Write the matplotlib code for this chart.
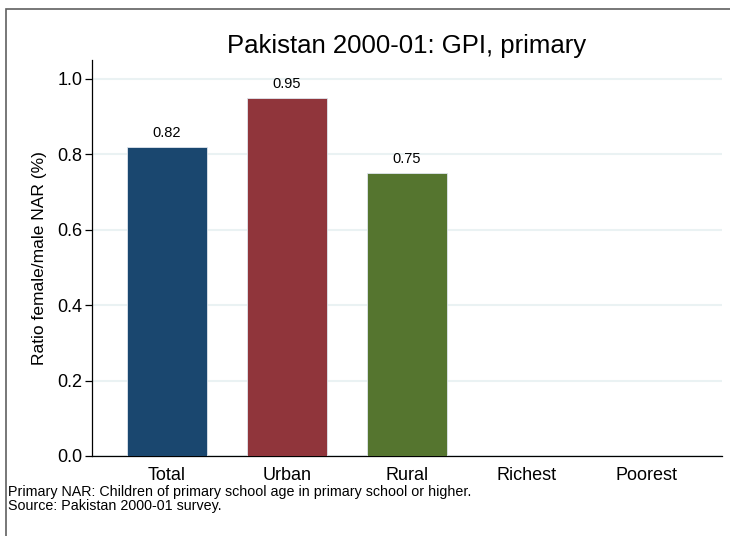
import matplotlib
matplotlib.use("Agg")
import matplotlib.pyplot as plt
from matplotlib.patches import Rectangle

plt.rcParams['font.family'] = ['Liberation Sans', 'DejaVu Sans']

# Datos del gráfico
categories = ['Total', 'Urban', 'Rural', 'Richest', 'Poorest']
gpi_values = [0.82, 0.95, 0.75, None, None]
bar_colors = ['#1a476f', '#90353b', '#55752f', '#e37e00', '#6e8e84']
yticks = [0.0, 0.2, 0.4, 0.6, 0.8, 1.0]

title = 'Pakistan 2000-01: GPI, primary'
ylabel = 'Ratio female/male NAR (%)'
note = ('Primary NAR: Children of primary school age in primary school or higher.\n'
        'Source: Pakistan 2000-01 survey.')

fig = plt.figure(figsize=(7.3, 5.36), dpi=100)
ax = fig.add_axes([0.1260, 0.1493, 0.8630, 0.7388])

# borde exterior (recortado a la derecha y abajo, como el original)
fig.patches.append(Rectangle((6 / 730, -0.1), 1.2, 1 - 9 / 536 + 0.1,
                             transform=fig.transFigure, fill=False,
                             edgecolor='#606060', linewidth=1.2))

for i, (cat, val) in enumerate(zip(categories, gpi_values)):
    if val is None:
        continue
    ax.bar(i, val, width=0.667, color=bar_colors[i], edgecolor='#dfe6ee',
           linewidth=0.6, zorder=3)
    ax.annotate(f'{val:.2f}', (i, val), xytext=(0, 5), textcoords='offset points',
                ha='center', va='bottom', fontsize=10.5)

ax.set_xlim(-0.625, 4.625)
ax.set_ylim(0, 1.05)
ax.set_xticks(range(len(categories)))
ax.set_xticklabels(categories, fontsize=13)
ax.set_yticks(yticks)
ax.set_yticklabels([f'{t:.1f}' for t in yticks], fontsize=13)
ax.tick_params(axis='x', length=0, pad=8)
ax.tick_params(axis='y', length=5, width=0.9, pad=2)

ax.grid(axis='y', color='#eaf2f3', linewidth=1.5, zorder=0)
ax.set_axisbelow(True)
for side in ['top', 'right']:
    ax.spines[side].set_visible(False)
for side in ['left', 'bottom']:
    ax.spines[side].set_linewidth(0.9)

ax.set_ylabel(ylabel, fontsize=12.5, labelpad=7)
ax.set_title(title, fontsize=18.5, pad=5)

fig.text(8 / 730, 1 - 485 / 536, note, fontsize=10.3, va='top', ha='left',
         linespacing=1.0)

plt.savefig('out.png', dpi=100)
plt.close()
